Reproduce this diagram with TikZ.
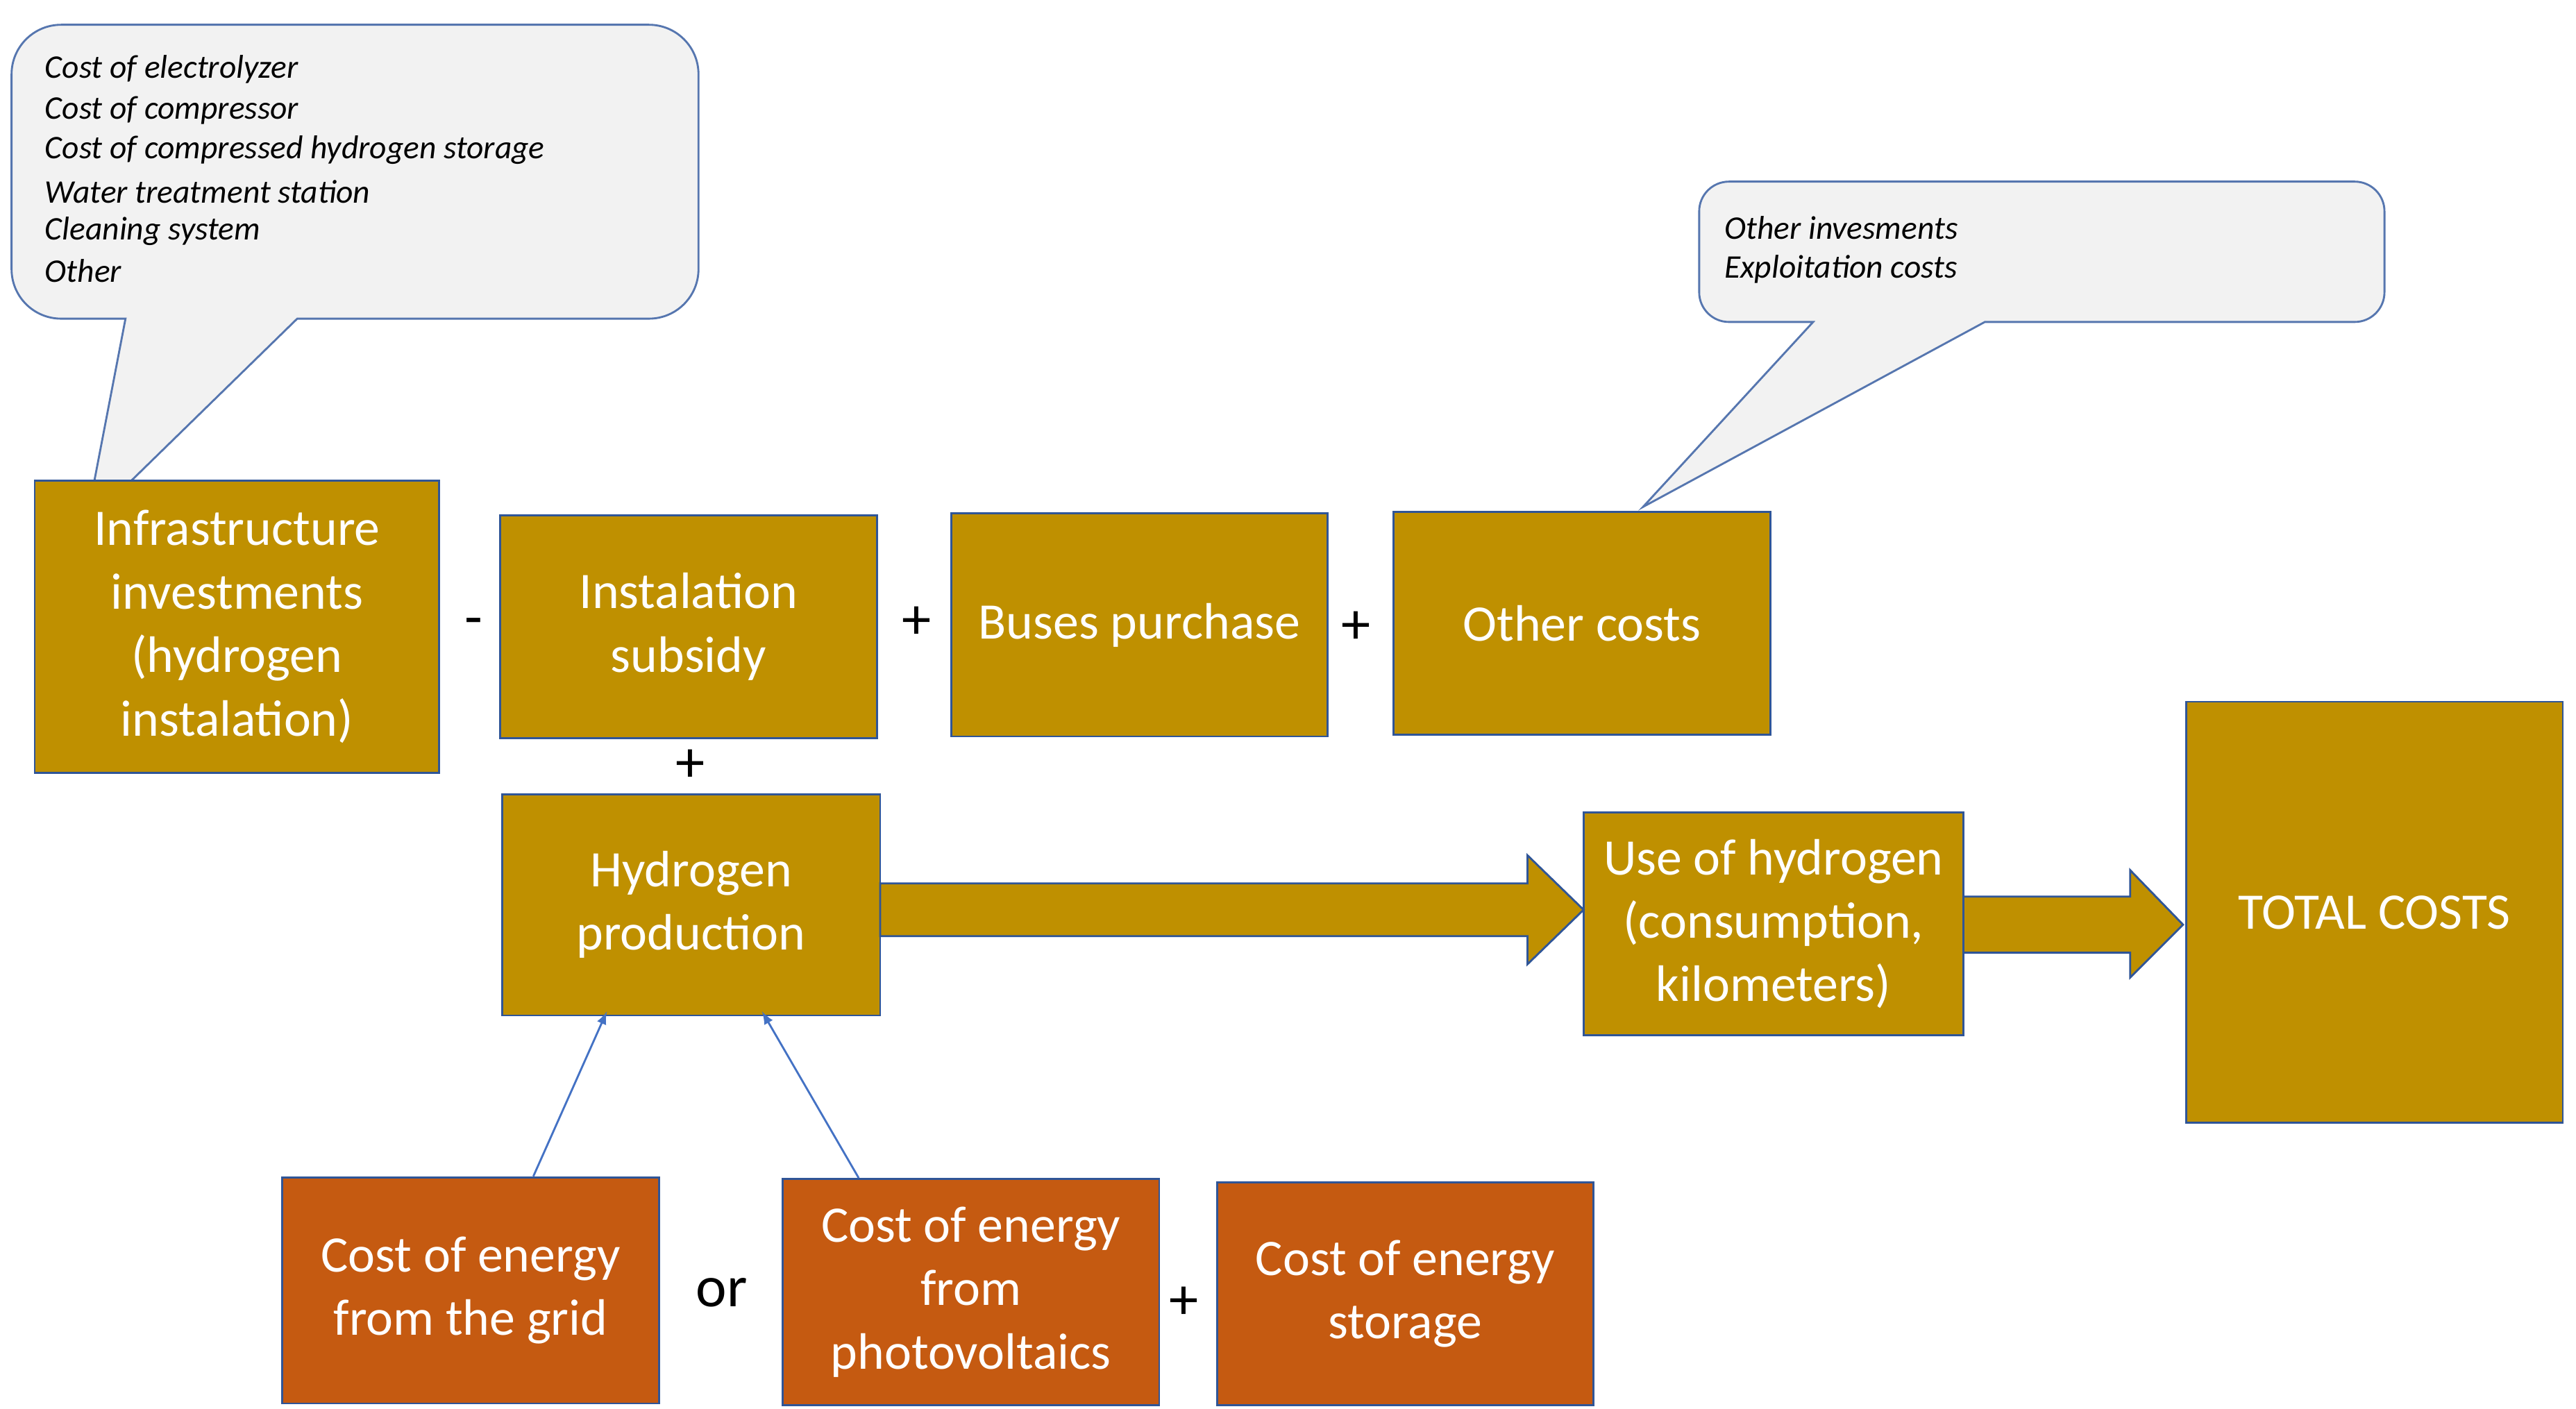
\documentclass[tikz,border=0pt]{standalone}
\usepackage{fontspec}
\setmainfont{Carlito}
\newlength{\du}
\setlength{\du}{0.02379cm}
\definecolor{goldfill}{RGB}{191,144,0}
\definecolor{rustfill}{RGB}{197,90,17}
\definecolor{edgeblue}{RGB}{47,85,151}
\definecolor{calloutline}{RGB}{68,114,196}
\definecolor{calloutfill}{RGB}{242,242,242}
\tikzset{
  gold/.style={draw=edgeblue, fill=goldfill, line width=1.2\du, text=white, align=center, font=\fontsize{21}{26}\selectfont, inner sep=0pt},
  rust/.style={gold, fill=rustfill},
  op/.style={font=\fontsize{24}{28}\selectfont, inner sep=0pt},
  callout/.style={draw=calloutline!70!gray, fill=calloutfill, line width=1.2\du},
  note/.style={anchor=west, font=\fontsize{13.5}{16}\selectfont\itshape, inner sep=0pt},
  feed/.style={draw=calloutline, line width=1.2\du, -latex},
  bigarrow/.style={draw=edgeblue, fill=goldfill, line width=1.2\du}
}
\begin{document}
\begin{tikzpicture}
\pgftransformyscale{-1.000000}
\useasboundingbox (0\du,0\du) rectangle (1560\du,853\du);
% callouts
\draw[callout] (76\du,193\du) -- (52\du,318\du) -- (180\du,193\du) [rounded corners=30\du] -- (423\du,193\du) -- (423\du,15\du) -- (7\du,15\du) -- (7\du,193\du) [sharp corners] -- cycle;
\draw[callout] (1098\du,195\du) -- (995\du,307\du) -- (1202\du,195\du) [rounded corners=18\du] -- (1444\du,195\du) -- (1444\du,110\du) -- (1029\du,110\du) -- (1029\du,195\du) [sharp corners] -- cycle;
\node[note] (n1) at (27\du,42\du) {Cost of electrolyzer};
\node[note] (n2) at (27\du,67\du) {Cost of compressor};
\node[note] (n3) at (27\du,91\du) {Cost of compressed hydrogen storage};
\node[note] (n4) at (27\du,116\du) {Water treatment station};
\node[note] (n5) at (27\du,140\du) {Cleaning system};
\node[note] (n6) at (27\du,164\du) {Other};
\node[note] (m1) at (1044\du,138\du) {Other invesments};
\node[note] (m2) at (1044\du,163\du) {Exploitation costs};
% gold boxes
\node[gold, minimum width=245\du, minimum height=177\du] (infra) at (143.5\du,379.5\du) {Infrastructure\\investments\\(hydrogen\\instalation)};
\node[gold, minimum width=228\du, minimum height=135\du] (subsidy) at (417\du,379.5\du) {Instalation\\subsidy};
\node[gold, minimum width=228\du, minimum height=135\du] (buses) at (690\du,378.5\du) {Buses purchase};
\node[gold, minimum width=228\du, minimum height=135\du] (other) at (958\du,377.5\du) {Other costs};
\node[gold, minimum width=229\du, minimum height=134\du] (hprod) at (418.5\du,548\du) {Hydrogen\\production};
\node[gold, minimum width=230\du, minimum height=135\du] (use) at (1074\du,559.5\du) {Use of hydrogen\\(consumption,\\kilometers)};
\node[gold, minimum width=228\du, minimum height=255\du] (total) at (1438\du,552.5\du) {TOTAL COSTS};
% energy boxes
\node[rust, minimum width=228\du, minimum height=137\du] (grid) at (285\du,781.5\du) {Cost of energy\\from the grid};
\node[rust, minimum width=228\du, minimum height=137\du] (pv) at (588\du,782.5\du) {Cost of energy\\from\\photovoltaics};
\node[rust, minimum width=228\du, minimum height=135\du] (storage) at (851\du,783.5\du) {Cost of energy\\storage};
% operators
\node[op] (minus) at (287\du,380\du) {-};
\node[op] (plus1) at (555\du,377\du) {+};
\node[op] (plus2) at (821\du,380\du) {+};
\node[op] (plus3) at (418\du,464\du) {+};
\node[op] (orop) at (437\du,783\du) {or};
\node[op] (plus4) at (717\du,789\du) {+};
% block arrows
\draw[bigarrow] (533\du,535\du) -- (925\du,535\du) -- (925\du,518\du) -- (959\du,551\du) -- (925\du,584\du) -- (925\du,567\du) -- (533\du,567\du) -- cycle;
\draw[bigarrow] (1189\du,543\du) -- (1290\du,543\du) -- (1290\du,527\du) -- (1322\du,560\du) -- (1290\du,592\du) -- (1290\du,577\du) -- (1189\du,577\du) -- cycle;
% feeds
\draw[feed] (grid.north) ++(38\du,0) -- ([xshift=-51\du,yshift=-3\du]hprod.south);
\draw[feed] (pv.north) ++(-68\du,0) -- ([xshift=43\du,yshift=-3\du]hprod.south);
\end{tikzpicture}
\end{document}
